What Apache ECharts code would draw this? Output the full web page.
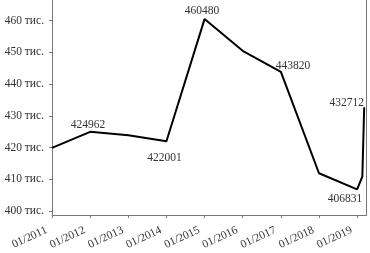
<!DOCTYPE html>
<html><head><meta charset="utf-8">
<script src="https://cdn.jsdelivr.net/npm/echarts@6/dist/echarts.min.js"></script>
<style>html,body{margin:0;padding:0;background:#fff}#c{width:370px;height:253px}</style>
</head><body><div id="c"></div>
<script>
// Data
const dates = ['2011-01-01','2012-01-01','2013-01-01','2014-01-01','2015-01-01','2016-01-01','2017-01-01','2018-01-01','2019-01-01','2019-02-20','2019-03-10'];
const values = [419900, 424962, 423900, 422001, 460480, 450500, 443820, 411900, 406831, 410800, 432712];
const labeledIdx = [1, 3, 4, 6, 8, 10];
const xTickDates = ['2011-01-01','2012-01-01','2013-01-01','2014-01-01','2015-01-01','2016-01-01','2017-01-01','2018-01-01','2019-01-01'];
const yTickValues = [400000, 410000, 420000, 430000, 440000, 450000, 460000];
const xMin = '2011-01-01', xMax = '2019-04-01';
const yMin = 398740, yMax = 466500;

const FONT = 'Liberation Serif';
const ts = d => Date.UTC(+d.slice(0, 4), +d.slice(5, 7) - 1, +d.slice(8, 10));
// label anchor positions relative to the (2px) symbol box
const labelPos = {
  1: [-1, -6],
  3: [-1, 18],
  4: [-1.5, -7],
  6: [13, -5],
  8: [-11, 11],
  10: [-16.5, -3]
};
const seriesData = dates.map((d, i) => {
  const item = {value: [ts(d), values[i]]};
  if (labeledIdx.includes(i)) {
    item.label = {show: true, position: labelPos[i], align: 'center', verticalAlign: 'middle',
      formatter: String(values[i]), fontFamily: FONT, fontSize: 11.5, color: '#333'};
  }
  return item;
});
const xTicks = xTickDates.map(ts);
const pad = n => (n < 10 ? '0' : '') + n;

const chart = echarts.init(document.getElementById('c'), null, {renderer: 'canvas'});
chart.setOption({
  animation: false,
  backgroundColor: '#fff',
  grid: {left: 52, right: 3.5, top: 0, bottom: 38, containLabel: false, outerBoundsMode: 'none'},
  xAxis: {
    type: 'value',
    min: ts(xMin), max: ts(xMax),
    axisLine: {lineStyle: {color: '#777', width: 1}},
    axisTick: {show: true, length: 3, customValues: xTicks, lineStyle: {color: '#777'}},
    splitLine: {show: false},
    axisLabel: {
      customValues: xTicks, rotate: 25, margin: 12, padding: [0, 6, 0, 0],
      fontFamily: FONT, fontSize: 11.5, color: '#333',
      formatter: v => { const d = new Date(v); return pad(d.getUTCMonth() + 1) + '/' + d.getUTCFullYear(); }
    }
  },
  yAxis: [{
    type: 'value', min: yMin, max: yMax,
    axisLine: {show: true, lineStyle: {color: '#777', width: 1}},
    axisTick: {show: true, length: 3, customValues: yTickValues, lineStyle: {color: '#777'}},
    splitLine: {show: false},
    axisLabel: {customValues: yTickValues, margin: 8, fontFamily: FONT, fontSize: 11.5, color: '#333',
      formatter: v => Math.round(v / 1000) + ' тис.'}
  }, {
    type: 'value', position: 'right', min: yMin, max: yMax,
    axisLine: {show: true, lineStyle: {color: '#777', width: 1}},
    axisTick: {show: false}, axisLabel: {show: false}, splitLine: {show: false}
  }],
  series: [{
    type: 'line', data: seriesData, showSymbol: true, showAllSymbol: true, symbol: 'circle', symbolSize: 2,
    itemStyle: {color: 'rgba(0,0,0,0)', borderWidth: 0},
    lineStyle: {color: '#000', width: 2}, clip: false,
    labelLayout: {hideOverlap: false}
  }]
});
</script></body></html>
